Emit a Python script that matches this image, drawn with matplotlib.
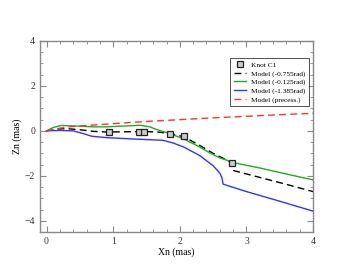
import matplotlib
matplotlib.use('Agg')
import matplotlib.pyplot as plt
from matplotlib.ticker import MultipleLocator

plt.rcParams['font.family'] = 'Liberation Serif'

# Knot C1 positions
knot_x = [0.93, 1.38, 1.46, 1.85, 2.06, 2.78]
knot_y = [-0.06, -0.03, -0.03, -0.12, -0.24, -1.43]

# Model (-0.755rad)
m1_x = [0.0, 0.15, 0.3, 0.5, 0.7, 0.9, 1.2, 1.5, 1.7, 1.85, 2.06, 2.3, 2.5, 2.65, 2.78, 2.81, 3.2, 3.6, 4.0]
m1_y = [0.0, 0.08, 0.1, 0.05, -0.02, -0.05, -0.04, -0.03, -0.06, -0.12, -0.26, -0.65, -1.0, -1.22, -1.43, -1.77, -2.07, -2.38, -2.7]

# Model (-0.125rad)
m2_x = [0.0, 0.1, 0.22, 0.4, 0.7, 0.9, 1.2, 1.4, 1.55, 1.65, 1.85, 2.05, 2.3, 2.45, 2.6, 2.7, 2.78, 3.2, 3.6, 4.0]
m2_y = [0.0, 0.15, 0.24, 0.22, 0.18, 0.18, 0.22, 0.25, 0.18, 0.06, -0.12, -0.35, -0.72, -0.98, -1.2, -1.3, -1.4, -1.65, -1.92, -2.18]

# Model (-1.385rad)
m3_x = [0.0, 0.2, 0.4, 0.55, 0.68, 0.9, 1.3, 1.75, 1.9, 2.06, 2.3, 2.5, 2.6, 2.63, 2.65, 3.0, 3.5, 4.0]
m3_y = [0.0, 0.02, 0.0, -0.12, -0.24, -0.3, -0.36, -0.42, -0.54, -0.72, -1.1, -1.55, -1.88, -2.07, -2.37, -2.7, -3.13, -3.57]

# Model (precess.)
m4_x = [0.0, 0.2, 0.4, 0.9, 1.5, 2.0, 2.5, 3.0, 3.5, 4.0]
m4_y = [0.0, 0.12, 0.2, 0.3, 0.42, 0.5, 0.58, 0.65, 0.72, 0.78]

fig = plt.figure(figsize=(3.53, 2.73), dpi=100)
ax = fig.add_axes([0.113, 0.15, 0.774, 0.70])

ax.plot(m1_x, m1_y, color='black', linestyle=(0, (5, 3)), linewidth=1.0, label='Model (-0.755rad)')
ax.plot(m2_x, m2_y, color='#22aa22', linewidth=1.0, label='Model (-0.125rad)')
ax.plot(m3_x, m3_y, color='#3333ff', linewidth=1.0, label='Model (-1.385rad)')
ax.plot(m4_x, m4_y, color='#ff3333', linestyle=(0, (5, 3)), linewidth=1.0, label='Model (precess.)')
ax.plot(knot_x, knot_y, linestyle='none', marker='s', markersize=4.5,
        markerfacecolor='#cccccc', markeredgecolor='#222222', markeredgewidth=0.9, label='Knot C1')

ax.set_xlim(-0.1, 4.0)
ax.set_ylim(-4.5, 4.0)
ax.xaxis.set_major_locator(MultipleLocator(1))
ax.xaxis.set_minor_locator(MultipleLocator(0.2))
ax.yaxis.set_major_locator(MultipleLocator(2))
ax.yaxis.set_minor_locator(MultipleLocator(0.5))
ax.tick_params(which='both', direction='in', top=True, right=True, labelsize=7, colors='#333333')
ax.tick_params(which='major', length=4, color='#888888')
ax.tick_params(which='minor', length=2, color='#888888')
for s in ax.spines.values():
    s.set_color('#888888')
    s.set_linewidth(1.0)

ax.set_xlabel('Xn (mas)', fontsize=7, labelpad=1)
ax.set_ylabel('Zn (mas)', fontsize=7, labelpad=2)

h, l = ax.get_legend_handles_labels()
order = [4, 0, 1, 2, 3]
leg = ax.legend([h[i] for i in order], [l[i] for i in order], loc='upper right',
                bbox_to_anchor=(0.997, 0.93), fontsize=5.3, frameon=True, fancybox=False,
                edgecolor='black', handlelength=1.7, borderpad=0.5, labelspacing=0.3,
                handletextpad=0.6)
leg.get_frame().set_linewidth(0.6)

fig.savefig('out.png', dpi=100)
